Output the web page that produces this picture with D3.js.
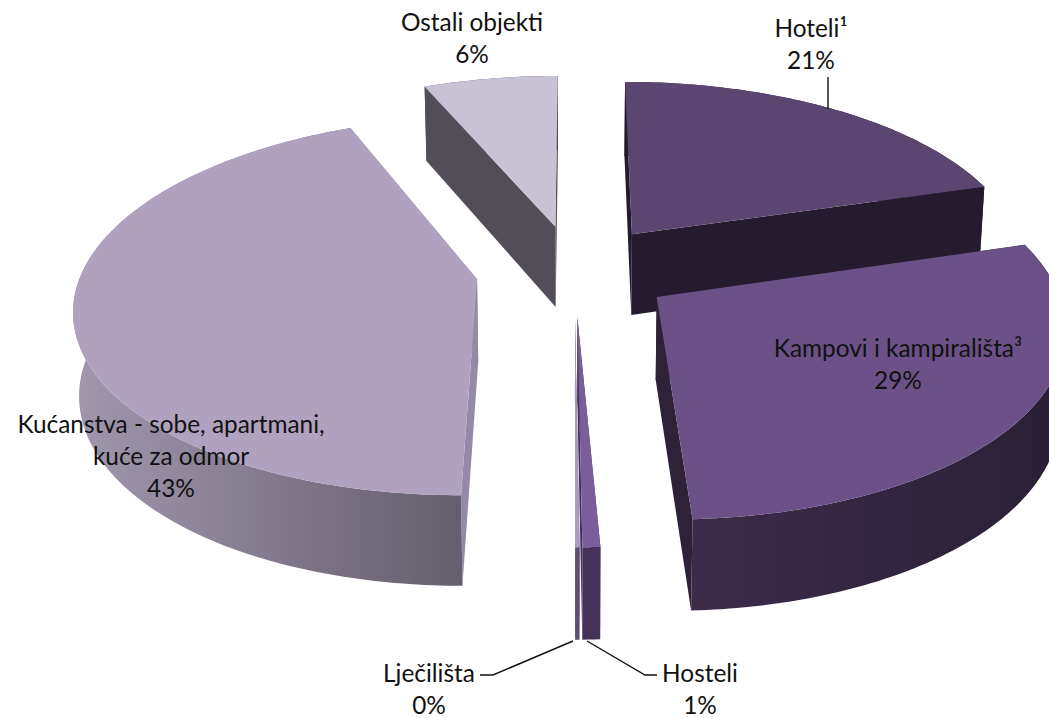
<!DOCTYPE html>
<html>
<head><meta charset="utf-8">
<title>Smjestaj</title>
<style>
body { margin:0; background:#fff; }
svg { display:block; }
text { font-family:"Lato","Open Sans",sans-serif; font-size:24.4px; fill:#111; text-anchor:middle; }
</style>
</head>
<body>
<svg width="1049" height="718"></svg>
<script src="https://d3js.org/d3.v7.min.js"></script>
<script>
// shares, clockwise from 12 o'clock
var categories = ["Hoteli¹", "Kampovi i kampirališta³", "Hosteli", "Lječilišta", "Kućanstva - sobe, apartmani,|kuće za odmor", "Ostali objekti"];
var shares = [20.4, 28.85, 0.6, 0.15, 43.6, 6.4];
var percentLabels = ["21%", "29%", "1%", "0%", "43%", "6%"];

// one colour per category: top, cut face, outer wall start/end
var topColors = ["#5b4672", "#6b5187", "#7a5d9b", "#a89ac0", "#b0a2bf", "#c9c1d4"];
var cutColors = ["#251b2f", "#2d2238", "#44325a", "#5f4e73", "#9489a6", "#524d56"];
var wallFrom = ["#251b2f", "#3d2b4a", "#44325a", "#5f4e73", "#a197ae", "#524d56"];
var wallTo = ["#251b2f", "#292035", "#44325a", "#5f4e73", "#655e6c", "#524d56"];

var drawOrder = [5, 0, 4, 1, 3, 2];

var cx = 574.5, cy = 270, // pie centre on screen
    rx = 395, ry = 183, // radius across and into the picture
    persp = 0.14, explode = 0.25,
    depth = 82, depthPersp = 0.09, depthShrink = 0.012;

var svg = d3.select("svg");
var defs = svg.append("defs");
var line = d3.line();

// plan coords (u right, v towards viewer, z 0 top 1 bottom) to screen
function project(u, v, z) {
  var s = 1 / (1 - persp * v);
  return [cx + rx * u * s * (1 - z * depthShrink),
          cy + ry * v * s + z * depth / (1 - depthPersp * v)];
}

var arcs = d3.pie().sort(null).startAngle(0).endAngle(2 * Math.PI)(shares);

arcs.forEach(function(d) {
  var mid = (d.startAngle + d.endAngle) / 2;
  d.ou = explode * Math.sin(mid);
  d.ov = -explode * Math.cos(mid);
  d.at = function(a, z) { return project(d.ou + Math.sin(a), d.ov - Math.cos(a), z); };
  d.apex = function(z) { return project(d.ou, d.ov, z); };
  var n = Math.max(2, Math.ceil((d.endAngle - d.startAngle) * 60));
  d.angles = d3.range(n + 1).map(function(i) { return d.startAngle + (d.endAngle - d.startAngle) * i / n; });
});

drawOrder.forEach(function(i) {
  var d = arcs[i];
  var g = svg.append("g");
  var topRim = d.angles.map(function(a) { return d.at(a, 0); });
  var botRim = d.angles.map(function(a) { return d.at(a, 1); });

  var xs = topRim.map(function(p) { return p[0]; });
  var grad = defs.append("linearGradient").attr("id", "wall" + i)
    .attr("gradientUnits", "userSpaceOnUse")
    .attr("x1", d3.min(xs)).attr("x2", d3.max(xs)).attr("y1", 0).attr("y2", 0);
  grad.append("stop").attr("offset", 0).attr("stop-color", wallFrom[i]);
  grad.append("stop").attr("offset", 1).attr("stop-color", wallTo[i]);

  // cut faces
  [d.startAngle, d.endAngle].forEach(function(a) {
    g.append("path")
      .attr("d", line([d.apex(0), d.at(a, 0), d.at(a, 1), d.apex(1)]) + "Z")
      .attr("fill", cutColors[i]);
  });
  // outer wall
  g.append("path")
    .attr("d", line(topRim.concat(botRim.slice().reverse())) + "Z")
    .attr("fill", "url(#wall" + i + ")");
  // top
  g.append("path")
    .attr("d", line([d.apex(0)].concat(topRim)) + "Z")
    .attr("fill", topColors[i]);
});

// leader lines
var leaders = [
  [[828, 77], [828, 109]],
  [[480, 675], [493, 675], [573, 641]],
  [[587, 641], [645, 675], [657, 675]]
];
svg.selectAll("path.leader").data(leaders).enter().append("path")
  .attr("class", "leader")
  .attr("d", function(d) { return line(d); })
  .attr("fill", "none").attr("stroke", "#111").attr("stroke-width", 1.4);

// label anchor: centre x, first baseline
var labelPos = [[811, 37], [898, 357], [700, 682], [429, 682], [171, 433], [472, 31]];
var lineStep = 32;

arcs.forEach(function(d, i) {
  var lines = categories[i].split("|").concat(percentLabels[i]);
  var t = svg.append("text");
  lines.forEach(function(s, k) {
    t.append("tspan").attr("x", labelPos[i][0]).attr("y", labelPos[i][1] + k * lineStep).text(s);
  });
});
</script>
</body>
</html>
